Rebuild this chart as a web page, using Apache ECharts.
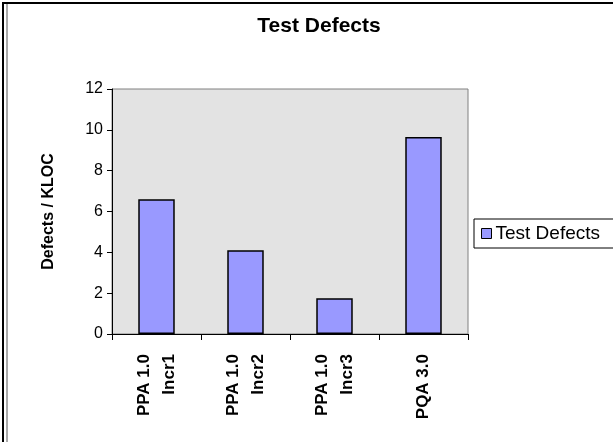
<!DOCTYPE html>
<html>
<head>
<meta charset="utf-8">
<script src="https://cdn.jsdelivr.net/npm/echarts@6/dist/echarts.min.js"></script>
<style>
  html, body { margin: 0; padding: 0; background: #fff; }
  #chart { width: 613px; height: 442px; }
</style>
</head>
<body>
<div id="chart"></div>
<script>
// 数据
var categories = ['PPA 1.0\nIncr1', 'PPA 1.0\nIncr2', 'PPA 1.0\nIncr3', 'PQA 3.0'];
var defects = [6.6, 4.1, 1.75, 9.65];
var seriesName = 'Test Defects';

var myChart = echarts.init(document.getElementById('chart'));
var font = '"Liberation Sans", Arial, sans-serif';

var option = {
  backgroundColor: '#fff',
  animation: false,
  title: {
    text: 'Test Defects',
    left: 314,
    textAlign: 'center',
    top: 11,
    textStyle: { fontFamily: font, fontSize: 21, fontWeight: 'bold', color: '#000' }
  },
  legend: {
    data: [{ name: seriesName, icon: 'rect' }],
    left: 474,
    top: 219,
    orient: 'vertical',
    padding: [5, 14, 5, 7],
    borderColor: '#000',
    borderWidth: 1,
    itemWidth: 10,
    itemHeight: 10,
    itemGap: 4,
    itemStyle: { borderColor: '#000', borderWidth: 1 },
    textStyle: { fontFamily: font, fontSize: 19, color: '#000', padding: [0, 0, 0, -1] }
  },
  grid: {
    left: 112,
    top: 89,
    width: 356,
    height: 245,
    show: true,
    backgroundColor: '#e3e3e3',
    borderColor: '#808080',
    borderWidth: 1
  },
  xAxis: {
    type: 'category',
    data: categories,
    axisLine: { lineStyle: { color: '#000', width: 1 } },
    axisTick: { show: true, length: 6, lineStyle: { color: '#000' } },
    axisLabel: {
      rotate: 90,
      margin: 20,
      fontFamily: font,
      fontSize: 17,
      fontWeight: 'bold',
      color: '#000',
      lineHeight: 25
    }
  },
  yAxis: {
    type: 'value',
    min: 0,
    max: 12,
    interval: 2,
    name: 'Defects / KLOC',
    nameLocation: 'middle',
    nameRotate: 90,
    nameGap: 55,
    nameTextStyle: { fontFamily: font, fontSize: 16, fontWeight: 'bold', color: '#000' },
    axisLine: { show: true, lineStyle: { color: '#000', width: 1 } },
    axisTick: { show: true, inside: false, length: 5, lineStyle: { color: '#000' } },
    splitLine: { show: false },
    axisLabel: { margin: 9, fontFamily: font, fontSize: 16, color: '#000' }
  },
  series: [
    {
      name: seriesName,
      type: 'bar',
      barWidth: '41%',
      data: defects,
      itemStyle: { color: '#9999ff', borderColor: '#000', borderWidth: 1.5 }
    }
  ],
  graphic: [
    {
      type: 'rect',
      shape: { x: 3, y: 3, width: 640, height: 480 },
      style: { fill: 'none', stroke: '#000', lineWidth: 2 },
      silent: true
    },
    {
      type: 'line',
      shape: { x1: 7, y1: 4, x2: 7, y2: 442 },
      style: { stroke: '#555', lineWidth: 1 },
      silent: true
    }
  ]
};

myChart.setOption(option);
</script>
</body>
</html>
